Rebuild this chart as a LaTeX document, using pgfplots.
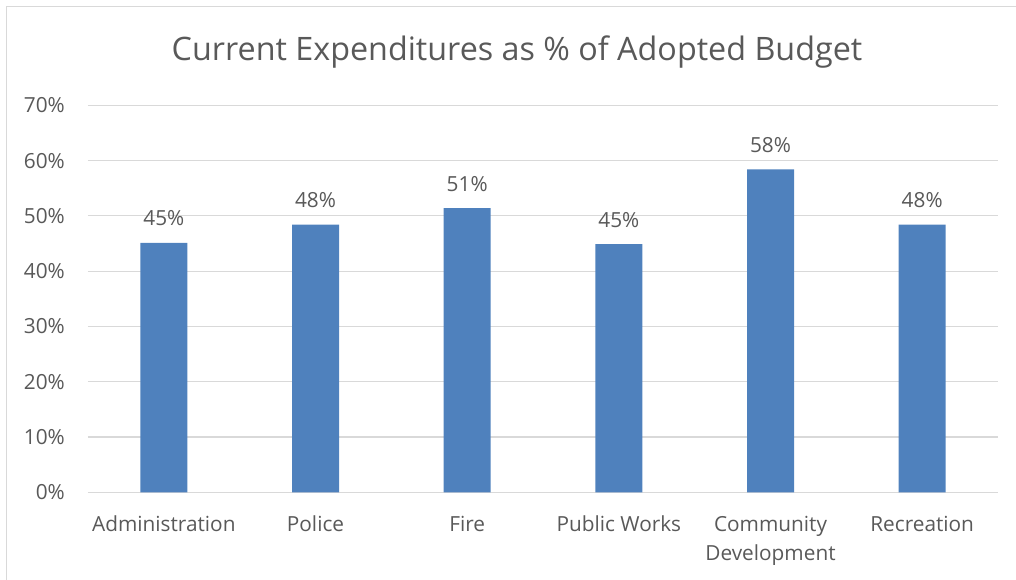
\documentclass[border=0pt]{standalone}
\usepackage{pgfplots}
\pgfplotsset{compat=1.18}
\usepackage{fontspec}
\setmainfont{Open Sans}
\definecolor{barblue}{HTML}{4F81BD}
\definecolor{txt}{HTML}{595959}
\definecolor{gridc}{HTML}{D9D9D9}
\newcommand{\twoline}[2]{\vtop{\baselineskip=28.5bp\halign{\hfil##\hfil\cr #1\cr #2\cr}}}
\begin{document}
\begin{tikzpicture}[x=1bp,y=1bp]
\path[use as bounding box] (-88,-87.7) rectangle (928,492.3);
\draw[gridc, line width=1.3bp] (-81.5,-87.7) -- (-81.5,486) -- (928,486);
\begin{axis}[
  at={(0,0)}, anchor=south west,
  scale only axis, width=910bp, height=387bp,
  ybar, bar width=47bp,
  xmin=-0.5, xmax=5.5, ymin=0, ymax=70,
  xtick={0,1,2,3,4,5},
  xticklabels={Administration,Police,Fire,Public Works,{\twoline{Community}{Development}},Recreation},
  ytick={0,10,20,30,40,50,60,70},
  yticklabel={\pgfmathprintnumber{\tick}\%},
  /pgf/number format/assume math mode=true,
  axis line style={draw=none},
  major tick length=0,
  ymajorgrids,
  grid style={gridc, line width=1.1bp},
  tick label style={text=txt, font=\fontsize{20.8bp}{28bp}\selectfont, inner sep=0pt},
  xticklabel style={anchor=base, yshift=-39.4bp},
  yticklabel style={anchor=east, xshift=-23bp},
  point meta=explicit symbolic,
  nodes near coords={\pgfplotspointmeta\%},
  nodes near coords style={anchor=base, yshift=17bp, inner sep=0pt, text=txt, font=\fontsize{20.8bp}{28bp}\selectfont},
]
\addplot[fill=barblue, draw=none] table[x=x, y=y, meta=lab] {
x y lab
0 45.1 45
1 48.4 48
2 51.4 51
3 44.9 45
4 58.4 58
5 48.4 48
};
\end{axis}
\node[anchor=base, text=txt, font=\fontsize{32.3bp}{38bp}\selectfont, inner sep=0pt] at (429,431.3) {Current Expenditures as \% of Adopted Budget};
\end{tikzpicture}
\end{document}
